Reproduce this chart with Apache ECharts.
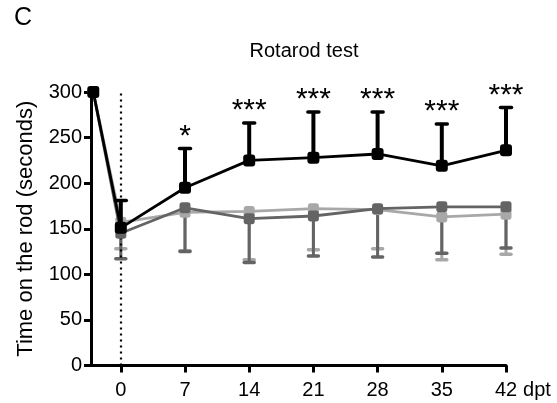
<!DOCTYPE html>
<html lang="en">
<head>
    <meta charset="UTF-8">
    <title>Rotarod test</title>
    <script src="https://cdn.jsdelivr.net/npm/echarts@6/dist/echarts.min.js"></script>
    <style>
        html, body { margin: 0; padding: 0; background: #fff; }
        #main { width: 557px; height: 403px; }
    </style>
</head>
<body>
    <div id="main"></div>
    <script>
        // days post-training (first point = pre-training baseline)
        const days = [-3, 0, 7, 14, 21, 28, 35, 42];
        const xTicks = [0, 7, 14, 21, 28, 35, 42];

        // mean and SD
        const blackMean = [300, 151, 195, 225, 228, 232, 219, 236];
        const blackSD   = [0, 30, 43, 41, 50, 46, 46, 47];
        const darkMean  = [300, 145, 173, 161, 164, 172, 174, 174];
        const darkSD    = [0, 28, 48, 48, 44, 53, 51, 45];
        const lightMean = [300, 157, 168, 169, 172, 171, 163, 166];
        const lightSD   = [0, 29, 42, 53, 45, 43, 47, 44];
        const stars     = ['', '', '*', '***', '***', '***', '***', '***'];

        const FONT = 'Liberation Sans, Arial, sans-serif';
        const myChart = echarts.init(document.getElementById('main'));

        function pairs(mean) {
            return days.map((d, i) => [d, mean[i]]);
        }

        // error bar: dir = 1 draws upward, -1 downward
        function errSeries(mean, sd, dir, color, z, w, capW) {
            const data = days.map((d, i) => [d, mean[i], mean[i] + dir * sd[i]]).filter((r, i) => sd[i] > 0);
            return {
                type: 'custom',
                z: z,
                silent: true,
                data: data,
                renderItem: (params, api) => {
                    const p0 = api.coord([api.value(0), api.value(1)]);
                    const p1 = api.coord([api.value(0), api.value(2)]);
                    return {
                        type: 'group',
                        children: [
                            { type: 'line', shape: { x1: p0[0], y1: p0[1], x2: p1[0], y2: p1[1] }, style: { stroke: color, lineWidth: w } },
                            { type: 'line', shape: { x1: p1[0] - capW / 2, y1: p1[1], x2: p1[0] + capW / 2, y2: p1[1] }, style: { stroke: color, lineWidth: 3.5, lineCap: 'round' } }
                        ]
                    };
                }
            };
        }

        function lineSeries(name, mean, color, z, size) {
            return {
                name: name,
                type: 'line',
                z: z,
                data: pairs(mean),
                symbol: 'roundRect',
                symbolSize: size,
                itemStyle: { color: color },
                lineStyle: { color: color, width: 2.8 },
                silent: true
            };
        }

        const starData = days.map((d, i) => [d, blackMean[i] + blackSD[i], stars[i]]).filter(r => r[2] !== '');

        const option = {
            animation: false,
            backgroundColor: '#fff',
            title: {
                text: 'Rotarod test',
                left: 299, top: 36, textAlign: 'center',
                textStyle: { fontFamily: FONT, fontSize: 20, fontWeight: 'normal', color: '#000' }
            },
            graphic: [
                { type: 'text', left: 14, top: 6, style: { text: 'C', fontFamily: FONT, fontSize: 25, fill: '#000' } }
            ],
            grid: { left: 91, right: 51, top: 92, bottom: 37.5 },
            xAxis: {
                type: 'value', min: -3.25, max: 42,
                name: 'dpt', nameLocation: 'end', nameGap: 9,
                nameTextStyle: { fontFamily: FONT, fontSize: 20, color: '#000', verticalAlign: 'top', padding: [15, 0, 0, 0] },
                axisLine: { onZero: false, lineStyle: { color: '#000', width: 3 } },
                axisTick: { customValues: xTicks, length: 7, lineStyle: { color: '#000', width: 3 } },
                axisLabel: { customValues: xTicks, margin: 15, fontFamily: FONT, fontSize: 20, color: '#000' },
                splitLine: { show: false }
            },
            yAxis: {
                type: 'value', min: 0, max: 300, interval: 50,
                name: 'Time on the rod (seconds)', nameLocation: 'middle', nameGap: 54,
                nameTextStyle: { fontFamily: FONT, fontSize: 22, color: '#000' },
                axisLine: { show: true, onZero: false, lineStyle: { color: '#000', width: 3 } },
                axisTick: { show: true, length: 7, lineStyle: { color: '#000', width: 3 } },
                axisLabel: { margin: 9, fontFamily: FONT, fontSize: 20, color: '#000' },
                splitLine: { show: false }
            },
            series: [
                errSeries(lightMean, lightSD, -1, '#a8a8a8', 2, 3, 10),
                errSeries(darkMean, darkSD, -1, '#646464', 3, 3, 10),
                lineSeries('light', lightMean, '#a8a8a8', 4, 11),
                lineSeries('dark', darkMean, '#646464', 5, 11),
                errSeries(blackMean, blackSD, 1, '#000', 6, 4, 11),
                Object.assign(lineSeries('black', blackMean, '#000', 7, 12), {
                    markLine: {
                        silent: true, symbol: 'none', label: { show: false },
                        lineStyle: { color: '#000', type: [2, 4], width: 2.2 },
                        data: [{ xAxis: 0 }]
                    }
                }),
                {
                    type: 'custom',
                    z: 8,
                    silent: true,
                    data: starData,
                    renderItem: (params, api) => {
                        const p = api.coord([api.value(0), api.value(1)]);
                        return {
                            type: 'text',
                            style: {
                                text: starData[params.dataIndex][2],
                                x: p[0], y: p[1] + 3,
                                align: 'center', verticalAlign: 'bottom',
                                fontFamily: FONT, fontSize: 30, fill: '#000'
                            }
                        };
                    }
                }
            ]
        };

        myChart.setOption(option);
    </script>
</body>
</html>
